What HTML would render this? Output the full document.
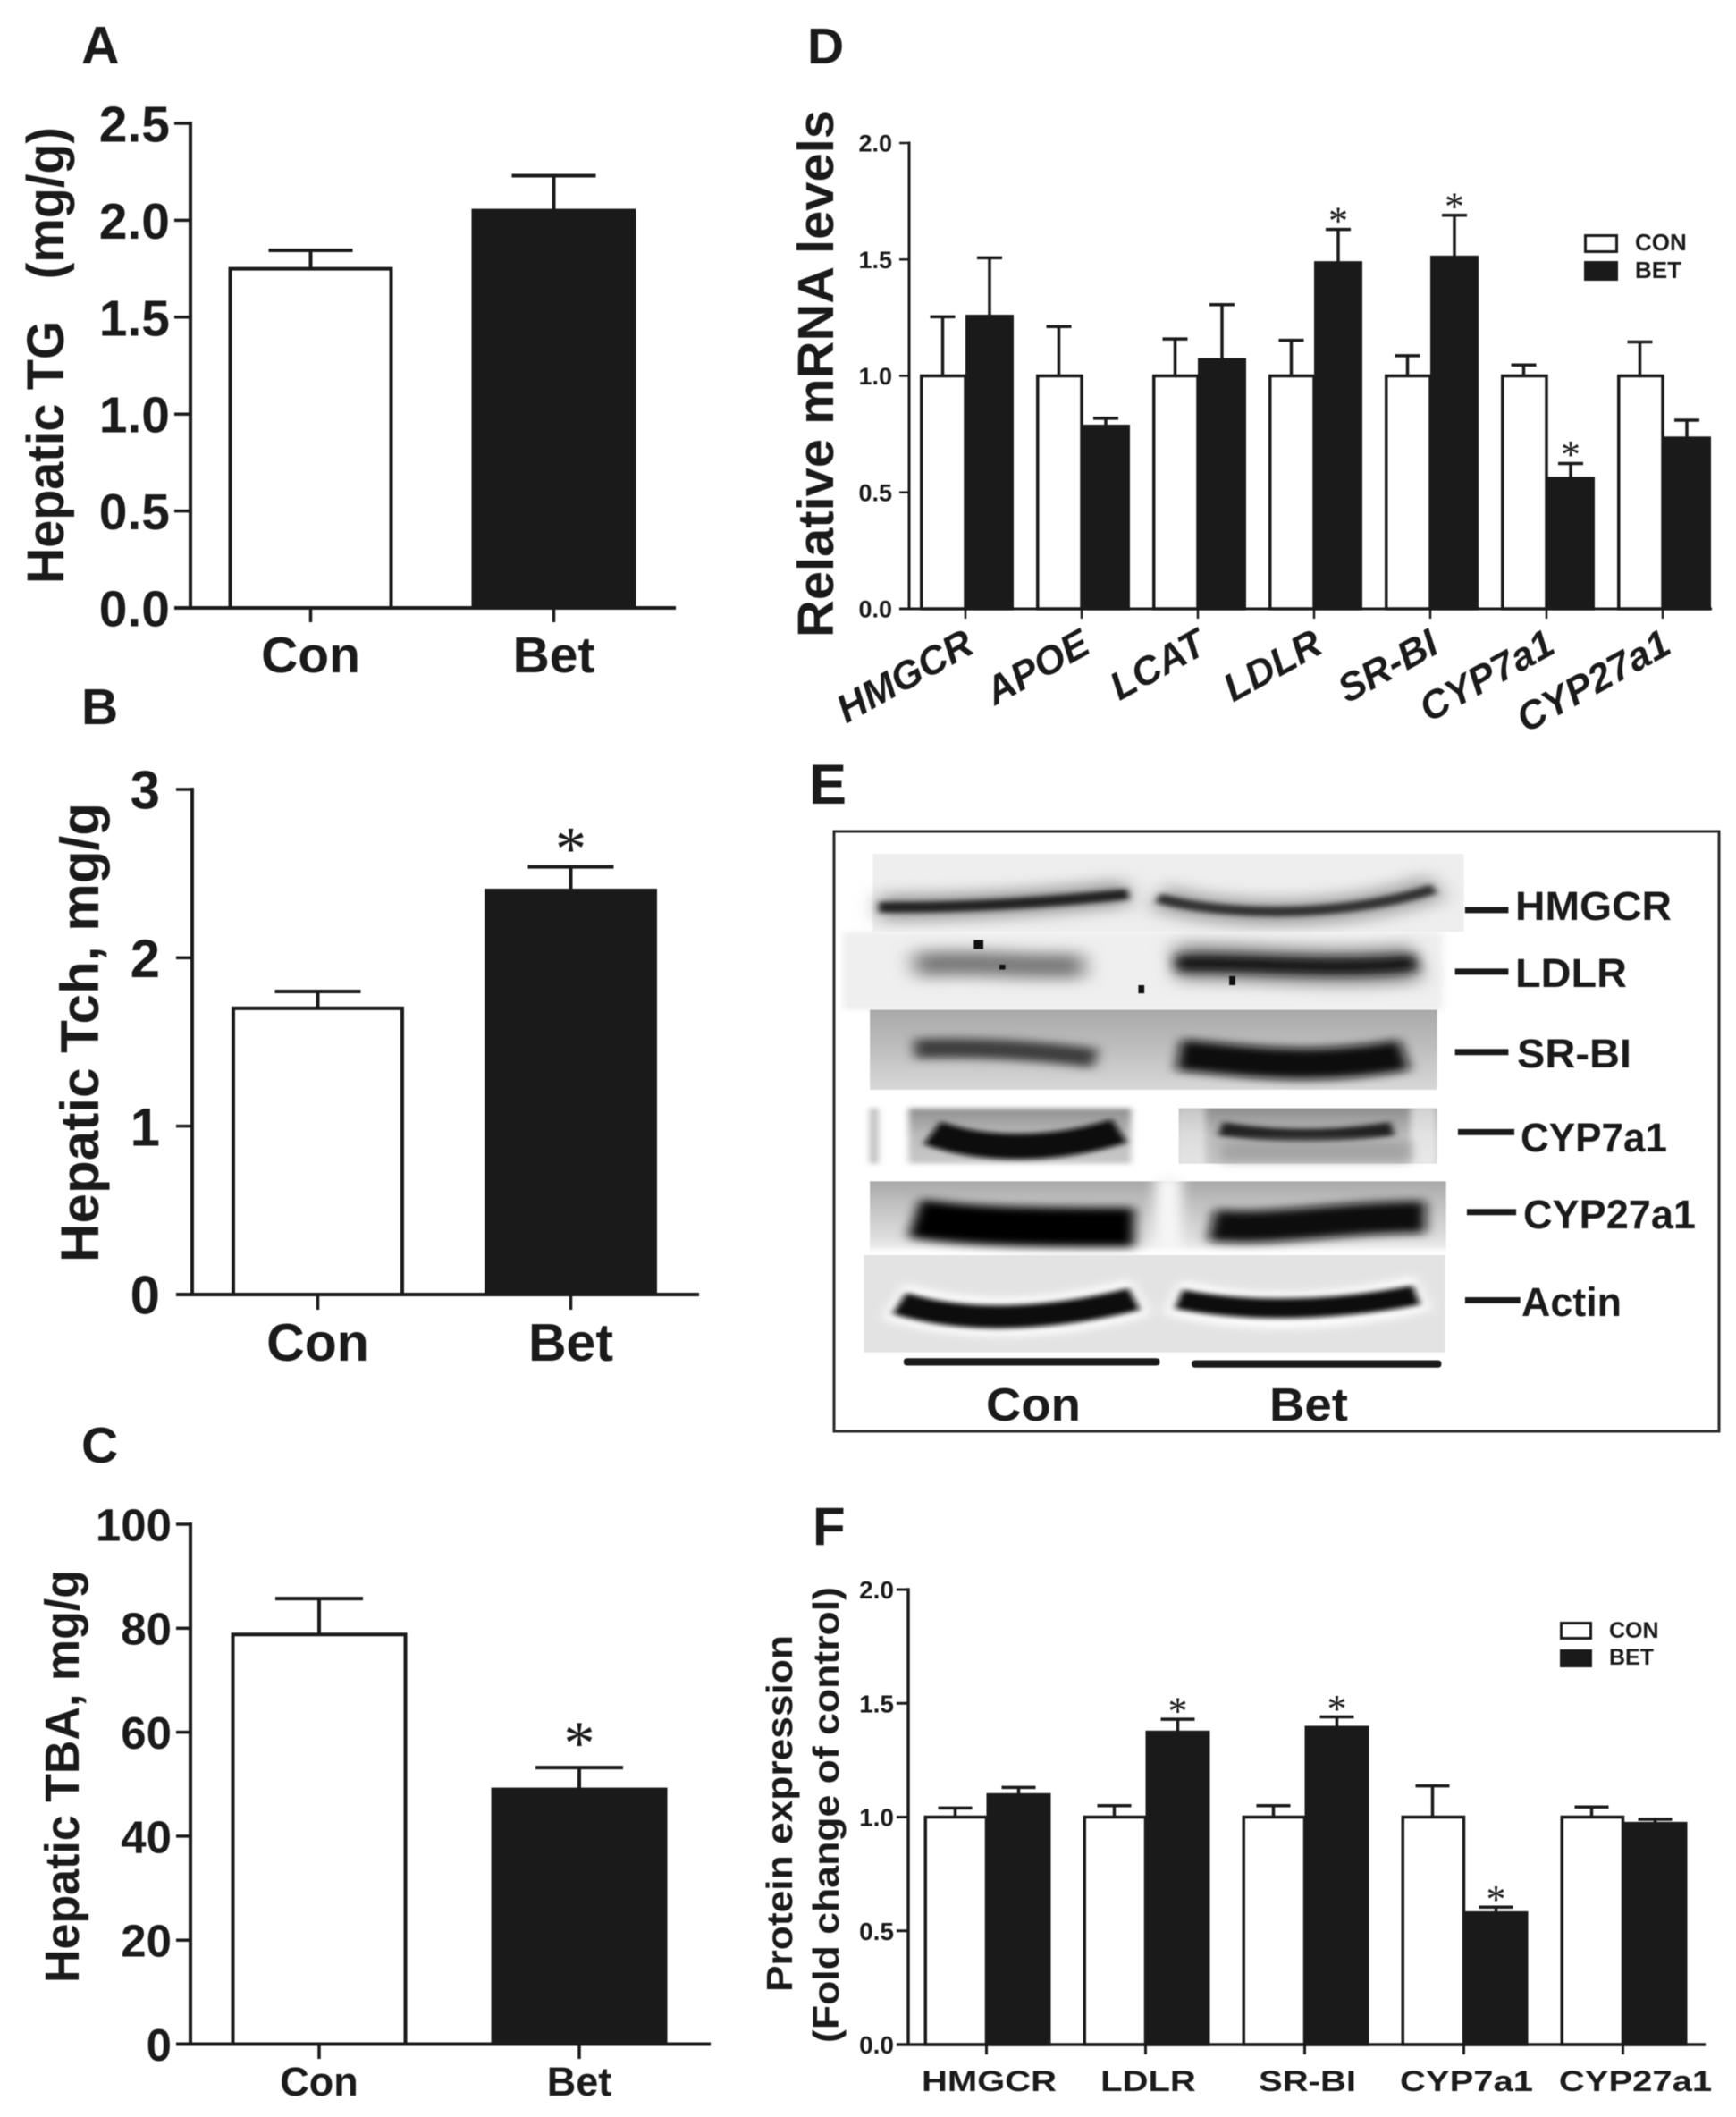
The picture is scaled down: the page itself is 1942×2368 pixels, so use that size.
<!DOCTYPE html>
<html lang="en">
<head>
<meta charset="utf-8">
<title>Hepatic lipid panels</title>
<style>
html,body{margin:0;padding:0;background:#fff;}
svg{display:block;filter:blur(.6px);}
text{font-family:"Liberation Sans",sans-serif;font-weight:bold;fill:#1a1a1a;}
</style>
</head>
<body>
<svg id="figure" xmlns="http://www.w3.org/2000/svg" width="1942" height="2368" viewBox="0 0 1942 2368">
<defs>
  <filter id="b4" filterUnits="userSpaceOnUse" x="0" y="0" width="1300" height="1500"><feGaussianBlur stdDeviation="6"/></filter>
  <filter id="b9" filterUnits="userSpaceOnUse" x="0" y="0" width="1300" height="1500"><feGaussianBlur stdDeviation="11"/></filter>
  <filter id="b16" filterUnits="userSpaceOnUse" x="0" y="0" width="1300" height="1500"><feGaussianBlur stdDeviation="18"/></filter>
  <linearGradient id="g3" x1="0" y1="0" x2="0" y2="1"><stop offset="0" stop-color="#a9a9a9"/><stop offset=".45" stop-color="#bdbdbd"/><stop offset="1" stop-color="#d8d8d8"/></linearGradient>
  <linearGradient id="g4" x1="0" y1="0" x2="0" y2="1"><stop offset="0" stop-color="#8f8f8f"/><stop offset=".5" stop-color="#bbb"/><stop offset="1" stop-color="#c8c8c8"/></linearGradient>
  <linearGradient id="g5" x1="0" y1="0" x2="0" y2="1"><stop offset="0" stop-color="#a8a8a8"/><stop offset=".3" stop-color="#c0c0c0"/><stop offset=".75" stop-color="#dcdcdc"/><stop offset="1" stop-color="#f4f4f4"/></linearGradient>
</defs>

<text x="91" y="71" font-size="59">A</text>
<text x="91" y="810" font-size="57">B</text>
<text x="91" y="1636" font-size="57">C</text>
<text x="903" y="71" font-size="57">D</text>
<text x="905" y="899" font-size="63">E</text>
<text x="909" y="1728" font-size="60">F</text>

<text transform="translate(71,653) rotate(-90)" font-size="58" textLength="511" lengthAdjust="spacingAndGlyphs">Hepatic TG&#160;&#160;&#160;(mg/g)</text>
<text transform="translate(110,1412) rotate(-90)" font-size="60" textLength="514" lengthAdjust="spacingAndGlyphs">Hepatic Tch, mg/g</text>
<text transform="translate(88,2218) rotate(-90)" font-size="54" textLength="462" lengthAdjust="spacingAndGlyphs">Hepatic TBA, mg/g</text>
<text transform="translate(932,713) rotate(-90)" font-size="57" textLength="590" lengthAdjust="spacingAndGlyphs">Relative mRNA levels</text>
<text transform="translate(886,2228) rotate(-90)" font-size="41" textLength="399" lengthAdjust="spacingAndGlyphs">Protein expression</text>
<text transform="translate(938,2285) rotate(-90)" font-size="41" textLength="510" lengthAdjust="spacingAndGlyphs">(Fold change of control)</text>

<g id="panel-a"></g>
<g id="panel-b"></g>
<g id="panel-c"></g>
<g id="panel-d"></g>
<g id="panel-f"></g>

<g>
  <rect x="1773.5" y="263.5" width="35" height="18" fill="#fff" stroke="#1a1a1a" stroke-width="3"/>
  <text x="1829" y="280" font-size="26">CON</text>
  <rect x="1772" y="292" width="38" height="22" fill="#1a1a1a"/>
  <text x="1829" y="311" font-size="26">BET</text>
</g>
<g>
  <rect x="1746.5" y="1815.5" width="33" height="17" fill="#fff" stroke="#1a1a1a" stroke-width="3"/>
  <text x="1800" y="1832" font-size="25">CON</text>
  <rect x="1745" y="1845" width="36" height="20" fill="#1a1a1a"/>
  <text x="1800" y="1862" font-size="25">BET</text>
</g>

<rect x="933" y="930" width="990" height="671" fill="#fff" stroke="#2a2a2a" stroke-width="3"/>

<g transform="translate(900,900) scale(.6645,.459)">
  <g>
    <rect x="115" y="120" width="995" height="190" fill="#eeeeee"/>
    <path d="M125 250C250 252 400 240 545 215" fill="none" stroke="#999" stroke-width="62" filter="url(#b16)"/>
    <path d="M595 225C700 275 900 285 1065 200" fill="none" stroke="#a5a5a5" stroke-width="66" filter="url(#b16)"/>
    <path d="M125 250C250 252 400 240 545 218" fill="none" stroke="#222" stroke-width="26" filter="url(#b4)"/>
    <path d="M595 228C700 270 900 280 1060 205" fill="none" stroke="#333" stroke-width="24" filter="url(#b4)"/>
  </g>
  <g>
    <rect x="65" y="310" width="1010" height="190" fill="#efefef" filter="url(#b4)"/>
    <path d="M185 390C280 380 380 398 470 392" fill="none" stroke="#777" stroke-width="60" filter="url(#b16)"/>
    <path d="M625 385C720 378 900 410 1030 385" fill="none" stroke="#888" stroke-width="90" filter="url(#b16)"/>
    <path d="M625 388C720 380 900 408 1030 385" fill="none" stroke="#161616" stroke-width="40" filter="url(#b9)"/>
    <rect x="285" y="330" width="16" height="22" fill="#111"/>
    <rect x="328" y="390" width="10" height="12" fill="#111"/>
    <rect x="562" y="440" width="10" height="20" fill="#111"/>
    <rect x="715" y="418" width="10" height="22" fill="#111"/>
  </g>
  <g>
    <rect x="110" y="500" width="955" height="195" fill="url(#g3)"/>
    <path d="M185 595C300 590 400 600 490 618" fill="none" stroke="#3e3e3e" stroke-width="48" filter="url(#b9)"/>
    <path d="M630 610C750 625 850 650 1010 610" fill="none" stroke="#0c0c0c" stroke-width="76" filter="url(#b9)"/>
  </g>
  <g>
    <rect x="110" y="740" width="14" height="135" fill="#bbb" filter="url(#b4)"/>
    <rect x="175" y="740" width="375" height="135" fill="url(#g4)" filter="url(#b4)"/>
    <rect x="630" y="740" width="435" height="135" fill="url(#g4)"/>
    <rect x="625" y="735" width="50" height="145" fill="#fff" opacity=".5" filter="url(#b4)"/>
    <rect x="1020" y="735" width="45" height="145" fill="#fff" opacity=".6" filter="url(#b4)"/>
    <path d="M215 800C300 845 420 845 530 795" fill="none" stroke="#070707" stroke-width="62" filter="url(#b4)"/>
    <path d="M700 790C800 815 900 810 990 790" fill="none" stroke="#222" stroke-width="34" filter="url(#b4)"/>
    <rect x="700" y="820" width="320" height="50" fill="#a4a4a4" filter="url(#b9)"/>
  </g>
  <g>
    <rect x="110" y="918" width="970" height="177" fill="url(#g5)"/>
    <rect x="590" y="905" width="45" height="200" fill="#f6f6f6" filter="url(#b9)"/>
    <rect x="105" y="1085" width="980" height="14" fill="#fff" filter="url(#b4)"/>
    <path d="M185 1008C280 1030 400 1030 555 1030" fill="none" stroke="#050505" stroke-width="96" filter="url(#b9)"/>
    <path d="M685 1025C780 1040 900 1005 1045 1005" fill="none" stroke="#0a0a0a" stroke-width="78" filter="url(#b9)"/>
  </g>
  <g>
    <rect x="100" y="1098" width="978" height="237" fill="#e3e3e3"/>
    <path d="M150 1210C280 1270 430 1255 565 1200" fill="none" stroke="#fff" stroke-width="92" filter="url(#b9)"/>
    <path d="M620 1200C750 1250 900 1240 1040 1190" fill="none" stroke="#fff" stroke-width="86" filter="url(#b9)"/>
    <path d="M160 1215C280 1270 430 1250 555 1205" fill="none" stroke="#080808" stroke-width="56" filter="url(#b4)"/>
    <path d="M630 1205C750 1240 900 1232 1030 1195" fill="none" stroke="#0a0a0a" stroke-width="48" filter="url(#b4)"/>
  </g>
  <rect x="167" y="1349" width="431" height="18" rx="6" fill="#1a1a1a"/>
  <rect x="652" y="1354" width="420" height="18" rx="6" fill="#1a1a1a"/>
  <g stroke="#1a1a1a" stroke-width="15" fill="none">
    <path d="M1112 257H1185"/>
    <path d="M1095 407H1185"/>
    <path d="M1095 603H1185"/>
    <path d="M1100 798H1195"/>
    <path d="M1115 993H1198"/>
    <path d="M1112 1208H1205"/>
  </g>
</g>

<g font-size="45">
  <text x="1695" y="1029" font-size="45" textLength="175" lengthAdjust="spacingAndGlyphs">HMGCR</text>
  <text x="1695" y="1104" font-size="45" textLength="125" lengthAdjust="spacingAndGlyphs">LDLR</text>
  <text x="1697" y="1194" font-size="45" textLength="128" lengthAdjust="spacingAndGlyphs">SR-BI</text>
  <text x="1701" y="1288" font-size="45" textLength="164" lengthAdjust="spacingAndGlyphs">CYP7a1</text>
  <text x="1704" y="1374" font-size="45" textLength="193" lengthAdjust="spacingAndGlyphs">CYP27a1</text>
  <text x="1702" y="1472" font-size="45" textLength="112" lengthAdjust="spacingAndGlyphs">Actin</text>
  <text x="1103" y="1589" font-size="52" textLength="106" lengthAdjust="spacingAndGlyphs">Con</text>
  <text x="1420" y="1589" font-size="52" textLength="88" lengthAdjust="spacingAndGlyphs">Bet</text>
</g>
</svg>

<script>
// Panel A
const aCategories = ['Con', 'Bet'];
const aValues = [1.75, 2.05];
const aErrors = [0.095, 0.18];
const aSignificant = [0, 0];
const aTickLabels = ['0.0', '0.5', '1.0', '1.5', '2.0', '2.5'];
// Panel B
const bCategories = ['Con', 'Bet'];
const bValues = [1.7, 2.4];
const bErrors = [0.1, 0.14];
const bSignificant = [0, 1];
const bTickLabels = ['0', '1', '2', '3'];
// Panel C
const cCategories = ['Con', 'Bet'];
const cValues = [78.8, 49];
const cErrors = [6.9, 4.2];
const cSignificant = [0, 1];
const cTickLabels = ['0', '20', '40', '60', '80', '100'];
// Panel D
const dCategories = ['HMGCR', 'APOE', 'LCAT', 'LDLR', 'SR-BI', 'CYP7a1', 'CYP27a1'];
const dConValues = [1, 1, 1, 1, 1, 1, 1];
const dConErrors = [0.254, 0.212, 0.159, 0.153, 0.087, 0.047, 0.146];
const dBetValues = [1.256, 0.784, 1.07, 1.486, 1.51, 0.56, 0.733];
const dBetErrors = [0.251, 0.034, 0.236, 0.143, 0.18, 0.064, 0.077];
const dSignificant = [0, 0, 0, 1, 1, 1, 0];
const dTickLabels = ['0.0', '0.5', '1.0', '1.5', '2.0'];
// Panel F
const fCategories = ['HMGCR', 'LDLR', 'SR-BI', 'CYP7a1', 'CYP27a1'];
const fConValues = [1, 1, 1, 1, 1];
const fConErrors = [0.04, 0.05, 0.05, 0.137, 0.044];
const fBetValues = [1.098, 1.373, 1.394, 0.579, 0.972];
const fBetErrors = [0.032, 0.057, 0.046, 0.025, 0.018];
const fSignificant = [0, 1, 1, 1, 0];
const fTickLabels = ['0.0', '0.5', '1.0', '1.5', '2.0'];

const NS = 'http://www.w3.org/2000/svg';
const INK = '#1a1a1a';

function makeLine(g, x1, y1, x2, y2, sw, name) {
  const el = document.createElementNS(NS, 'line');
  el.setAttribute('x1', x1);
  el.setAttribute('y1', y1);
  el.setAttribute('x2', x2);
  el.setAttribute('y2', y2);
  el.setAttribute('stroke', INK);
  el.setAttribute('stroke-width', sw);
  
  
  g.appendChild(el);
  return el;
}

function makeText(g, str, x, y, size, anchor, name, transform) {
  const el = document.createElementNS(NS, 'text');
  el.textContent = str;
  el.setAttribute('font-size', size);
  el.setAttribute('text-anchor', anchor);
  if (transform) {
    el.setAttribute('transform', transform);
  } else {
    el.setAttribute('x', x);
    el.setAttribute('y', y);
  }
  
  
  g.appendChild(el);
  return el;
}

function makeBar(g, left, right, top, bottom, fill, sw, name) {
  const el = document.createElementNS(NS, 'rect');
  el.setAttribute('x', left + sw / 2);
  el.setAttribute('y', top);
  el.setAttribute('width', right - left - sw);
  el.setAttribute('height', bottom - top);
  el.setAttribute('fill', fill);
  el.setAttribute('stroke', INK);
  el.setAttribute('stroke-width', sw);
  
  
  g.appendChild(el);
  return el;
}

function makeStar(g, cx, cy, size, name) {
  const el = document.createElementNS(NS, 'text');
  el.textContent = '*';
  el.setAttribute('x', cx);
  el.setAttribute('y', cy + size * 0.47);
  el.setAttribute('font-size', size);
  el.setAttribute('text-anchor', 'middle');
  el.setAttribute('style', 'font-family:"Liberation Serif",serif;font-weight:normal');
  
  
  g.appendChild(el);
  return el;
}

function drawAxes(g, L, tickLabels, yScale) {
  makeLine(g, L.axisX, yScale(Number(tickLabels[tickLabels.length - 1])) - L.sw / 2, L.axisX, L.y0, L.sw, 'y-axis');
  makeLine(g, L.tickLeft, L.y0, L.xEnd, L.y0, L.sw, 'x-axis');
  tickLabels.forEach(function (label) {
    const y = yScale(Number(label));
    if (Number(label) !== 0) makeLine(g, L.tickLeft, y, L.axisX, y, L.tickSw, 'y-tick-' + label);
    makeText(g, label, L.tickTextX, y + L.tickFont * 0.36, L.tickFont, 'end', 'y-tick-label-' + label);
  });
}

function errorBar(g, x, top, topErr, capHalf, sw, name) {
  makeLine(g, x, top, x, topErr, sw, name + '-stem');
  makeLine(g, x - capHalf, topErr, x + capHalf, topErr, sw, name + '-cap');
}

function drawSingle(id, L, categories, values, errors, significant, tickLabels) {
  const g = document.getElementById(id);
  const maxV = Number(tickLabels[tickLabels.length - 1]);
  const yScale = function (v) { return L.y0 - v / maxV * (L.y0 - L.y1); };
  const xScale = function (i) { return L.x0 + i * L.pitch; };
  categories.forEach(function (cat, i) {
    const cx = xScale(i);
    const key = cat.toLowerCase();
    const topErr = yScale(values[i] + errors[i]);
    errorBar(g, cx, yScale(values[i]), topErr, L.capHalf, L.errSw, 'error-bar-' + key);
    makeBar(g, cx - L.halfBar, cx + L.halfBar, yScale(values[i]), L.y0, i === 0 ? '#fff' : INK, L.barSw, 'bar-' + key);
    makeLine(g, cx, L.y0, cx, L.tickBottom, L.tickSw, 'x-tick-' + key);
    makeText(g, cat, cx + L.labelDx, L.labelY, L.labelFont, 'middle', 'x-tick-label-' + key);
    if (significant[i]) makeStar(g, cx, topErr - L.starGap, L.starFont, 'significance-star-' + key);
  });
  drawAxes(g, L, tickLabels, yScale);
}

function drawGrouped(id, L, categories, conV, conE, betV, betE, significant, tickLabels) {
  const g = document.getElementById(id);
  const maxV = Number(tickLabels[tickLabels.length - 1]);
  const yScale = function (v) { return L.y0 - v / maxV * (L.y0 - L.y1); };
  const xScale = function (i) { return L.x0 + i * L.pitch; };
  categories.forEach(function (cat, i) {
    const cx = xScale(i);
    const key = cat.toLowerCase();
    const conMid = cx - L.conW / 2;
    const betMid = cx + L.betW / 2;
    const conErrTop = yScale(conV[i] + conE[i]);
    const betErrTop = yScale(betV[i] + betE[i]);
    errorBar(g, conMid, yScale(conV[i]), conErrTop, L.capHalf, L.errSw, 'error-bar-con-' + key);
    errorBar(g, betMid, yScale(betV[i]), betErrTop, L.capHalf, L.errSw, 'error-bar-bet-' + key);
    makeBar(g, cx - L.conW, cx + L.barSw / 2, yScale(conV[i]), L.y0, '#fff', L.barSw, 'bar-con-' + key);
    makeBar(g, cx, cx + L.betW, yScale(betV[i]), L.y0, INK, L.barSw, 'bar-bet-' + key);
    makeLine(g, cx, L.y0, cx, L.tickBottom, L.tickSw, 'x-tick-' + key);
    if (L.rotated) {
      const lab = makeText(g, cat, 0, 0, L.labelFont, 'end', 'x-tick-label-' + key,
        'translate(' + (cx + L.labelDx) + ',' + L.labelY + ') rotate(' + L.rotated + ')');
      lab.setAttribute('font-style', 'italic');
    } else {
      const dx = i === categories.length - 1 ? L.lastLabelDx : L.labelDx;
      makeText(g, cat, 0, 0, L.labelFont, 'middle', 'x-tick-label-' + key,
        'translate(' + (cx + dx) + ',' + L.labelY + ') scale(1,' + L.labelSquash + ')');
    }
    if (significant[i]) makeStar(g, betMid + L.starDx, betErrTop - L.starGap, L.starFont, 'significance-star-' + key);
  });
  drawAxes(g, L, tickLabels, yScale);
}

drawSingle('panel-a', {
  y0: 680, y1: 138, axisX: 213, xEnd: 756, tickLeft: 195, tickBottom: 696, tickTextX: 190,
  x0: 347.5, pitch: 272, halfBar: 92, capHalf: 47, sw: 4, tickSw: 3.5, errSw: 4, barSw: 4,
  tickFont: 57, labelFont: 57, labelY: 752, labelDx: 0, starGap: 26, starFont: 70
}, aCategories, aValues, aErrors, aSignificant, aTickLabels);

drawSingle('panel-b', {
  y0: 1448, y1: 883, axisX: 215, xEnd: 782, tickLeft: 197, tickBottom: 1465, tickTextX: 179,
  x0: 355.5, pitch: 283, halfBar: 96.5, capHalf: 48, sw: 4, tickSw: 3.5, errSw: 4, barSw: 4,
  tickFont: 60, labelFont: 59, labelY: 1522, labelDx: 0, starGap: 30, starFont: 70
}, bCategories, bValues, bErrors, bSignificant, bTickLabels);

drawSingle('panel-c', {
  y0: 2286.5, y1: 1705, axisX: 213, xEnd: 795, tickLeft: 197, tickBottom: 2303, tickTextX: 192,
  x0: 357, pitch: 291, halfBar: 98.5, capHalf: 49, sw: 4, tickSw: 3.5, errSw: 4, barSw: 4,
  tickFont: 51, labelFont: 45, labelY: 2344, labelDx: 0, starGap: 37, starFont: 70
}, cCategories, cValues, cErrors, cSignificant, cTickLabels);

drawGrouped('panel-d', {
  y0: 681, y1: 160, axisX: 1017, xEnd: 1915, tickLeft: 1006, tickBottom: 692, tickTextX: 998,
  x0: 1080, pitch: 130, conW: 51, betW: 54, capHalf: 14, sw: 3, tickSw: 2.5, errSw: 3.5, barSw: 3.5,
  tickFont: 27, labelFont: 44, labelY: 729, labelDx: 12, rotated: -29, starGap: 16, starFont: 44, starDx: 0
}, dCategories, dConValues, dConErrors, dBetValues, dBetErrors, dSignificant, dTickLabels);

drawGrouped('panel-f', {
  y0: 2287, y1: 1778, axisX: 1016, xEnd: 1908, tickLeft: 1003, tickBottom: 2298, tickTextX: 1000,
  x0: 1103.5, pitch: 178, conW: 70, betW: 72, capHalf: 19, sw: 3.5, tickSw: 3, errSw: 3.5, barSw: 3.5,
  tickFont: 28, labelFont: 40, labelY: 2339, labelDx: 3, lastLabelDx: 14, labelSquash: 0.8, starGap: 15, starFont: 44, starDx: 0
}, fCategories, fConValues, fConErrors, fBetValues, fBetErrors, fSignificant, fTickLabels);
</script>
</body>
</html>
